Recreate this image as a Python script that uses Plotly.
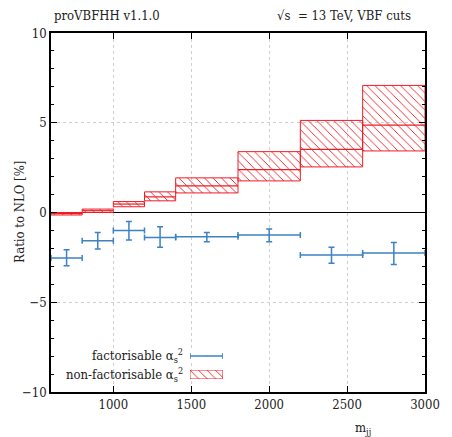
import plotly.graph_objects as go

# bins in m_jj
bin_lo = [600, 800, 1000, 1200, 1400, 1800, 2200, 2600]
bin_hi = [800, 1000, 1200, 1400, 1800, 2200, 2600, 3000]

# factorisable alpha_s^2 (blue)
fact_val = [-2.53, -1.57, -1.00, -1.39, -1.35, -1.26, -2.37, -2.26]
fact_up = [0.46, 0.46, 0.50, 0.60, 0.24, 0.34, 0.43, 0.59]
fact_dn = [0.43, 0.46, 0.53, 0.55, 0.28, 0.37, 0.46, 0.64]

# non-factorisable alpha_s^2 (red band)
nf_val = [-0.06, 0.10, 0.47, 0.87, 1.48, 2.39, 3.52, 4.87]
nf_lo = [-0.14, 0.00, 0.32, 0.65, 1.09, 1.76, 2.54, 3.43]
nf_hi = [0.00, 0.19, 0.61, 1.15, 1.93, 3.39, 5.13, 7.08]

x_ticks = [1000, 1500, 2000, 2500, 3000]
y_ticks = [-10, -5, 0, 5, 10]

RED = "#ee1c25"
BLUE = "#3d82c4"
FONT = "DejaVu Serif Condensed, DejaVu Serif"
FS = 13

centers = [(a + b) / 2 for a, b in zip(bin_lo, bin_hi)]
widths = [b - a for a, b in zip(bin_lo, bin_hi)]
half = [w / 2 for w in widths]

fig = go.Figure()

fig.add_trace(go.Bar(
    x=centers, y=[h - l for h, l in zip(nf_hi, nf_lo)], base=nf_lo, width=widths,
    marker=dict(color=RED, line=dict(color=RED, width=1),
                pattern=dict(shape="\\", fgcolor=RED, bgcolor="rgba(255,255,255,0)",
                             size=6, solidity=0.15, fillmode="replace")),
    showlegend=False, hoverinfo="skip"))

cx, cy = [], []
for a, b, v in zip(bin_lo, bin_hi, nf_val):
    cx += [a, b, None]
    cy += [v, v, None]
fig.add_trace(go.Scatter(x=cx, y=cy, mode="lines", line=dict(color=RED, width=1.2),
                         showlegend=False, hoverinfo="skip"))

fig.add_trace(go.Scatter(
    x=centers, y=fact_val, mode="markers", marker=dict(size=1, color=BLUE),
    error_x=dict(type="data", array=half, color=BLUE, thickness=1.5, width=3),
    error_y=dict(type="data", array=fact_up, arrayminus=fact_dn, color=BLUE, thickness=1.5, width=3),
    showlegend=False, hoverinfo="skip"))

# legend samples on auxiliary axes
fig.add_trace(go.Scatter(
    x=[0.5], y=[0.5], mode="markers", marker=dict(size=1, color=BLUE),
    error_x=dict(type="constant", value=0.5, color=BLUE, thickness=1.5, width=3),
    xaxis="x2", yaxis="y2", showlegend=False, hoverinfo="skip"))
fig.add_trace(go.Bar(
    x=[0.5], y=[1], base=[0], width=[1],
    marker=dict(color=RED, line=dict(color=RED, width=1),
                pattern=dict(shape="\\", fgcolor=RED, bgcolor="rgba(255,255,255,0)",
                             size=6, solidity=0.15, fillmode="replace")),
    xaxis="x3", yaxis="y3", showlegend=False, hoverinfo="skip"))

def px2x(p):
    return (p - 51) / 385

def px2y(p):
    return (392 - p) / 359

axis_common = dict(showline=True, linecolor="black", linewidth=1.5, mirror="allticks",
                   ticks="inside", ticklen=6, tickcolor="black", tickwidth=1,
                   showgrid=True, gridcolor="#cfcfcf", griddash="dot", gridwidth=1,
                   tickfont=dict(family=FONT, size=FS, color="#222"))

fig.update_layout(
    width=452, height=437, margin=dict(l=51, r=16, t=33, b=45),
    paper_bgcolor="white", plot_bgcolor="white", barmode="overlay",
    font=dict(family=FONT, size=FS, color="#222"),
    xaxis=dict(range=[600, 3000], tickvals=x_ticks, zeroline=False, **axis_common),
    yaxis=dict(range=[-10, 10], tickvals=y_ticks, zeroline=True, zerolinecolor="black",
               zerolinewidth=1.2,
               minor=dict(dtick=1, ticks="inside", ticklen=3, tickcolor="black", showgrid=False),
               **axis_common),
    xaxis2=dict(domain=[px2x(194), px2x(228)], range=[0, 1], visible=False, anchor="y2"),
    yaxis2=dict(domain=[px2y(361), px2y(351)], range=[0, 1], visible=False, anchor="x2"),
    xaxis3=dict(domain=[px2x(194), px2x(228)], range=[0, 1], visible=False, anchor="y3"),
    yaxis3=dict(domain=[px2y(379), px2y(370)], range=[0, 1], visible=False, anchor="x3"),
)

ann = [
    dict(text="proVBFHH v1.1.0", x=px2x(52), y=px2y(15), xanchor="left", yanchor="middle"),
    dict(text="√s  = 13 TeV, VBF cuts", x=px2x(424), y=px2y(15), xanchor="right", yanchor="middle"),
    dict(text="Ratio to NLO [%]", x=px2x(18), y=px2y(212), xanchor="center", yanchor="middle",
         textangle=-90),
    dict(text="m<sub>jj</sub>", x=px2x(372), y=px2y(428), xanchor="center", yanchor="middle"),
    dict(text="factorisable α<sub>s</sub><sup>2</sup>", x=px2x(189), y=px2y(356),
         xanchor="right", yanchor="middle"),
    dict(text="non-factorisable α<sub>s</sub><sup>2</sup>", x=px2x(189), y=px2y(375),
         xanchor="right", yanchor="middle"),
]
for a in ann:
    fig.add_annotation(xref="paper", yref="paper", showarrow=False,
                       font=dict(family=FONT, size=FS, color="#222"), **a)

fig.write_html("out.html")
